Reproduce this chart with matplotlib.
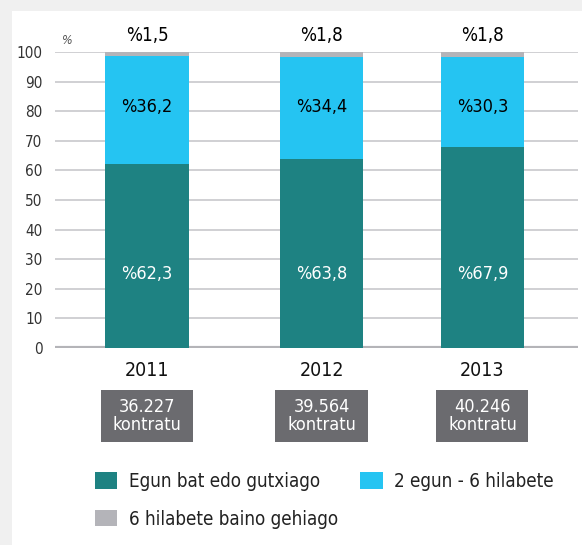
import matplotlib
matplotlib.use("Agg")
import matplotlib.pyplot as plt
import matplotlib.transforms as mtransforms
from matplotlib.patches import Rectangle, Patch

plt.rcParams['font.family'] = ['DejaVu Sans']
plt.rcParams['font.stretch'] = 'condensed'

# dados
anos = ["2011", "2012", "2013"]
egun_bat = [62.3, 63.8, 67.9]
bi_egun = [36.2, 34.4, 30.3]
sei_hil = [1.5, 1.8, 1.8]
kontratuak = ["36.227", "39.564", "40.246"]
ticks_y = [0, 10, 20, 30, 40, 50, 60, 70, 80, 90, 100]

series = ["Egun bat edo gutxiago", "2 egun - 6 hilabete", "6 hilabete baino gehiago"]
cores = ["#1e8282", "#25c4f2", "#b4b4b9"]

def fmt(v):
    return "%" + f"{v:.1f}".replace(".", ",")

fig = plt.figure(figsize=(5.82, 5.45), dpi=100)
fig.patch.set_facecolor("#f0f0f0")
# painel branco
fig.patches.append(Rectangle((12 / 582, 0), 1, 1 - 11 / 545, transform=fig.transFigure,
                             facecolor="white", edgecolor="none", zorder=0))

ax = fig.add_axes([55 / 582, 1 - 348 / 545, (578 - 55) / 582, (348 - 52) / 545])
ax.set_zorder(2)
ax.set_facecolor("none")
x = [0, 1.04, 2]  # posicao das barras (a do meio fica um pouco deslocada no original)
w = 0.5

ax.bar(x, egun_bat, w, color=cores[0], zorder=3)
ax.bar(x, bi_egun, w, bottom=egun_bat, color=cores[1], zorder=3)
topo = [a + b for a, b in zip(egun_bat, bi_egun)]
ax.bar(x, sei_hil, w, bottom=topo, color=cores[2], zorder=3)

ax.set_xlim(-0.55, 2.57)
ax.set_ylim(0, 100)
ax.set_yticks(ticks_y)
ax.set_yticklabels([str(t) for t in ticks_y], fontsize=11, color="#333333")
ax.set_xticks([])
ax.tick_params(axis="y", length=0, pad=9)
for s in ax.spines.values():
    s.set_visible(False)
for t in ticks_y[1:]:
    ax.axhline(t, color="#c8c8cc", lw=1.2, zorder=1)
ax.axhline(0, color="#b4b4b8", lw=3, zorder=2)

# rotulos dos valores
for i, xi in enumerate(x):
    ax.text(xi, 25, fmt(egun_bat[i]), ha="center", va="center", color="white",
            fontsize=13, zorder=4)
    ax.text(xi, 81.5, fmt(bi_egun[i]), ha="center", va="center", color="black",
            fontsize=13, zorder=4)
    ax.text(xi, 105.5, fmt(sei_hil[i]), ha="center", va="center", color="black",
            fontsize=13.5, clip_on=False, zorder=4)

ax.text(-0.51, 104, "%", fontsize=9, style="italic", color="#555555", ha="left", va="center")

# anos e caixas de contratos
trans = mtransforms.blended_transform_factory(ax.transData, fig.transFigure)
bw = 92 / 167.5
for i, xi in enumerate(x):
    ax.text(xi, 1 - 370 / 545, anos[i], transform=trans, ha="center", va="center",
            fontsize=14, color="#111111")
    ax.add_patch(Rectangle((xi - bw / 2, 1 - 442 / 545), bw, 52 / 545, transform=trans,
                           facecolor="#6b6b6f", edgecolor="none", clip_on=False))
    ax.text(xi, 1 - 416 / 545, kontratuak[i] + "\nkontratu", transform=trans,
            ha="center", va="center", fontsize=13, color="white", linespacing=0.95)

handles = [Patch(facecolor=cores[0]), Patch(facecolor=cores[2]), Patch(facecolor=cores[1])]
labels = [series[0], series[2], series[1]]
fig.legend(handles, labels, ncol=2, loc="upper left", bbox_to_anchor=(78 / 582, 1 - 455 / 545),
           frameon=False, fontsize=13.5, handlelength=1.2, handleheight=0.95,
           handletextpad=0.6, columnspacing=1.2, labelspacing=1.0, labelcolor="#222222")

fig.savefig("out.png", dpi=100)
